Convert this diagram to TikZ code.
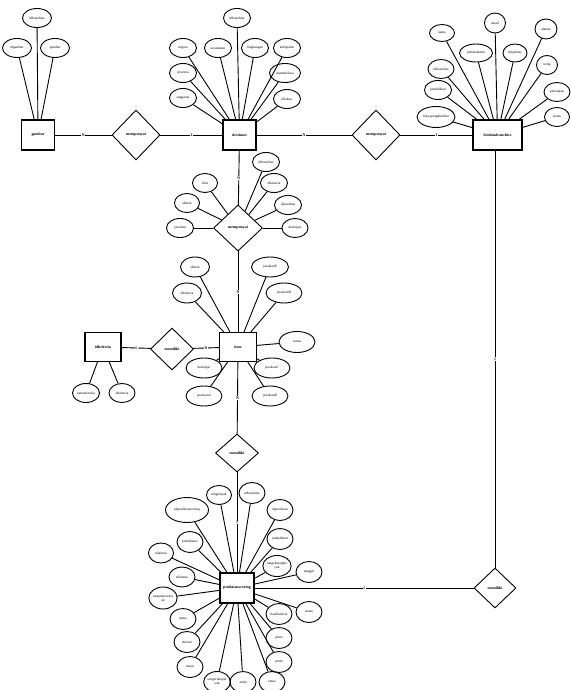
\documentclass[tikz,border=0pt]{standalone}
\usepackage{fontspec}
\setmainfont{Liberation Serif}
\usetikzlibrary{shapes.geometric}
\begin{document}
\begin{tikzpicture}[x=1pt,y={(0pt,-1pt)},
 ent/.style={draw,line width=1.1pt,minimum width=33pt,minimum height=30pt,inner sep=0pt,font=\fontsize{3.9}{4.4}\selectfont\bfseries},
 attr/.style={draw,ellipse,line width=0.9pt,minimum width=27pt,minimum height=19pt,inner sep=0pt,font=\fontsize{3.5}{3.9}\selectfont,align=center},
 rel/.style={draw,diamond,line width=0.9pt,minimum width=48pt,minimum height=48pt,inner sep=0pt,font=\fontsize{3.9}{4.4}\selectfont\bfseries},
 lk/.style={line width=0.9pt},
 card/.style={fill=white,inner sep=0.5pt,font=\fontsize{4}{4.5}\selectfont\bfseries}
]
\useasboundingbox[fill=white] (0,0) rectangle (570,690);
% ---------- gambar
\node[ent] (gb) at (38,135) {gambar};
\node[attr,minimum width=29pt] (gb1) at (37,18) {idfranchise};
\node[attr,minimum width=29pt] (gb2) at (17,48) {idgambar};
\node[attr,minimum width=29pt] (gb3) at (55,48) {gambar};
\foreach \a in {gb1,gb2,gb3} \draw[lk] (gb) -- (\a);
% ---------- destinasi
\node[ent] (ds) at (239.5,135) {destinasi};
\node[attr] (ds1) at (237,18) {idfranchise};
\node[attr] (ds2) at (183,48) {negara};
\node[attr] (ds3) at (218,48) {kecamatan};
\node[attr] (ds4) at (255,48) {lingkungan};
\node[attr] (ds5) at (287,48) {kabupaten};
\node[attr] (ds6) at (183,73) {provinsi};
\node[attr,minimum width=31pt] (ds7) at (285,73) {alamatlokasi};
\node[attr] (ds8) at (183,98) {anggaran};
\node[attr] (ds9) at (287,99) {idlokasi};
\foreach \a in {ds1,ds2,ds3,ds4,ds5,ds6,ds7,ds8,ds9} \draw[lk] (ds) -- (\a);
% ---------- biodatafranchise
\node[ent,minimum width=49pt] (bd) at (497.5,135) {biodatafranchise};
\node[attr,minimum width=21pt,minimum height=20pt] (bd1) at (495,23) {email};
\node[attr,minimum width=25pt,minimum height=17pt] (bd2) at (442,33) {nama};
\node[attr,minimum width=22pt,minimum height=20pt] (bd3) at (546,29) {alamat};
\node[attr,minimum width=33pt,minimum height=18pt] (bd4) at (476,53) {jeniskelamin};
\node[attr,minimum width=24pt,minimum height=18pt] (bd5) at (515,53) {telephone};
\node[attr,minimum width=21pt,minimum height=19pt] (bd6) at (547,65) {nohp};
\node[attr,minimum width=26pt,minimum height=19pt] (bd7) at (441,69) {idfranchise};
\node[attr,minimum width=27pt,minimum height=19pt] (bd8) at (438,90) {pendidikan};
\node[attr,minimum width=26pt,minimum height=19pt] (bd9) at (557,92) {pekerjaan};
\node[attr,minimum width=38pt,minimum height=21pt] (bd10) at (436,117) {biayayangdimiliki};
\node[attr,minimum width=25pt,minimum height=19pt] (bd11) at (557,117) {status};
\foreach \a in {bd1,bd2,bd3,bd4,bd5,bd6,bd7,bd8,bd9,bd10,bd11} \draw[lk] (bd) -- (\a);
% ---------- relationships top row
\node[rel,minimum width=48pt,minimum height=50pt] (m1) at (136,135) {mempunyai};
\node[rel,minimum width=48pt,minimum height=50pt] (m2) at (376,135) {mempunyai};
\draw[lk] (gb) -- node[card]{N} (m1);
\draw[lk] (m1) -- node[card]{1} (ds);
\draw[lk] (ds) -- node[card]{N} (m2);
\draw[lk] (m2) -- node[card]{1} (bd);
% ---------- mempunyai (middle)
\node[rel,minimum width=49pt,minimum height=46pt] (m3) at (238,228) {mempunyai};
\node[attr] (m3a) at (266,162) {idfranchise};
\node[attr] (m3b) at (274,183) {idkriteria};
\node[attr,minimum width=25pt] (m3c) at (205,183) {nilai};
\node[attr,minimum width=25pt] (m3d) at (187,203) {iditem};
\node[attr] (m3e) at (288,205) {idjawaban};
\node[attr] (m3f) at (180,228) {jawaban};
\node[attr,minimum width=26pt] (m3g) at (295,228) {deskripsi};
\foreach \a in {m3a,m3b,m3c,m3d,m3e,m3f,m3g} \draw[lk] (m3) -- (\a);
\draw[lk] (ds) -- node[card]{N} (m3);
% ---------- item
\node[ent,minimum width=37pt,minimum height=29pt] (it) at (238,347) {item};
\node[attr,minimum width=29pt,minimum height=20pt] (it1) at (195,267) {iditem};
\node[attr,minimum width=37pt,minimum height=20pt] (it2) at (270,267) {jawabanE};
\node[attr,minimum width=29pt,minimum height=20pt] (it3) at (187,293) {idkriteria};
\node[attr,minimum width=36pt,minimum height=20pt] (it4) at (284,293) {jawabanD};
\node[attr,minimum width=36pt,minimum height=21pt] (it5) at (297,342) {status};
\node[attr,minimum width=36pt,minimum height=20pt] (it6) at (204,368) {deskripsi};
\node[attr,minimum width=36pt,minimum height=20pt] (it7) at (272,368) {jawabanC};
\node[attr,minimum width=36pt,minimum height=20pt] (it8) at (204,396) {jawabanA};
\node[attr,minimum width=36pt,minimum height=20pt] (it9) at (270,396) {jawabanB};
\foreach \a in {it1,it2,it3,it4,it5,it6,it7,it8,it9} \draw[lk] (it) -- (\a);
\draw[lk] (m3) -- node[card]{N} (it);
% ---------- kriteria
\node[ent,minimum width=36pt,minimum height=29pt] (kr) at (103,347) {idkriteria};
\node[attr] (kr1) at (86,393) {namakriteria};
\node[attr,minimum width=26pt] (kr2) at (122,393) {idkriteria};
\foreach \a in {kr1,kr2} \draw[lk] (kr) -- (\a);
\node[rel,minimum width=43pt,minimum height=42pt] (mk1) at (172,349) {memiliki};
\draw[lk] (kr) -- node[card]{1} (mk1);
\draw[lk] (mk1) -- node[card]{N} (it);
% ---------- memiliki (item - penilaian)
\node[rel,minimum width=43pt,minimum height=38pt] (mk2) at (237,453) {memiliki};
\draw[lk] (it) -- node[card]{N} (mk2);
% ---------- penilaianscoring
\node[ent,minimum width=34pt,minimum height=30pt] (ps) at (237,588) {penilaianscoring};
\draw[lk] (mk2) -- node[card]{1} (ps);
\node[attr,minimum width=25pt,minimum height=19pt] (ps1) at (219,495) {rangelayak};
\node[attr,minimum width=26pt,minimum height=21pt] (ps2) at (252,493) {idfranchise};
\node[attr,minimum width=43pt,minimum height=25pt] (ps3) at (187,510) {idpenilaianscoring};
\node[attr,minimum width=26pt,minimum height=21pt] (ps4) at (280,510) {idpenilaian};
\node[attr,minimum width=26pt,minimum height=21pt] (ps5) at (190,542) {jumlahskor};
\node[attr,minimum width=26pt,minimum height=21pt] (ps6) at (280,539) {jumlahitem};
\node[attr,minimum width=25pt,minimum height=20pt] (ps7) at (161,553) {nilaimin};
\node[attr,minimum width=26pt,minimum height=21pt] (ps8) at (277,566) {rangekurangla\\yak};
\node[attr,minimum width=26pt,minimum height=21pt] (ps9) at (309,572) {tanggal};
\node[attr,minimum width=26pt,minimum height=20pt] (ps10) at (182,577) {nilaimax};
\node[attr,minimum width=26pt,minimum height=22pt] (ps11) at (163,598) {rataprakoreksi\\an};
\node[attr,minimum width=26pt,minimum height=21pt] (ps12) at (183,619) {nama};
\node[attr,minimum width=26pt,minimum height=21pt] (ps13) at (187,642) {deviasi};
\node[attr,minimum width=26pt,minimum height=21pt] (ps14) at (190,667) {mean};
\node[attr,minimum width=26pt,minimum height=21pt] (ps15) at (217,682) {rangecukupla\\yak};
\node[attr,minimum width=26pt,minimum height=21pt] (ps16) at (243,682) {zmin};
\node[attr,minimum width=26pt,minimum height=21pt] (ps17) at (272,682) {zmax};
\node[attr,minimum width=26pt,minimum height=21pt] (ps18) at (279,662) {pmin};
\node[attr,minimum width=26pt,minimum height=21pt] (ps19) at (279,638) {pmax};
\node[attr,minimum width=26pt,minimum height=21pt] (ps20) at (279,614) {hasilkriteria};
\node[attr,minimum width=26pt,minimum height=21pt] (ps21) at (309,612) {status};
\foreach \a in {ps1,ps2,ps3,ps4,ps5,ps6,ps7,ps8,ps9,ps10,ps11,ps12,ps13,ps14,ps15,ps16,ps17,ps18,ps19,ps20,ps21} \draw[lk] (ps) -- (\a);
% ---------- memiliki (right)
\node[rel,minimum width=42pt,minimum height=40pt] (mk3) at (495,588) {memiliki};
\draw[lk] (ps) -- node[card]{1} (mk3);
\draw[lk] (bd.south -| mk3) -- node[card]{1} (mk3);
\end{tikzpicture}
\end{document}
